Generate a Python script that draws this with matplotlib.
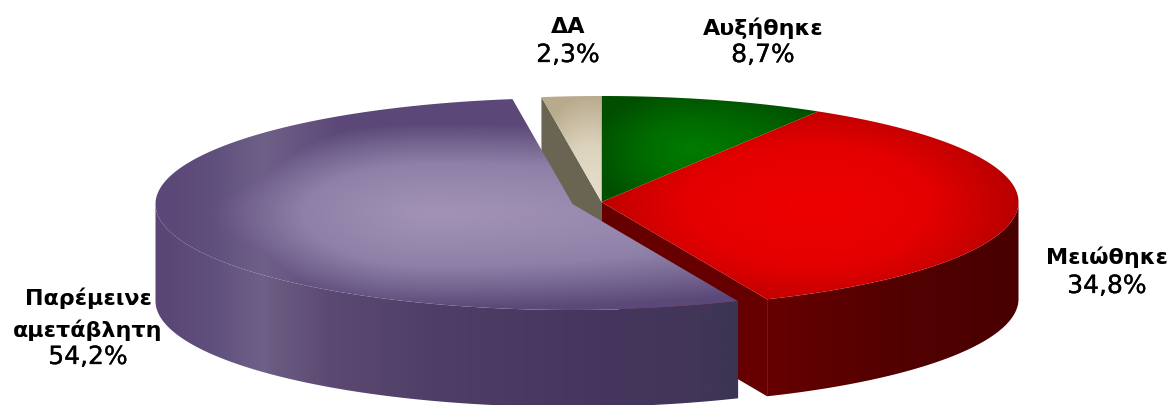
"""3D pie chart drawn from the four survey shares."""

import numpy as np
import matplotlib
matplotlib.use("Agg")
import matplotlib.pyplot as plt
import matplotlib.patheffects as pe
from matplotlib.colors import LinearSegmentedColormap
from matplotlib.patches import Polygon

plt.rcParams["font.family"] = ["DejaVu Sans"]

# data, clockwise from 12 o'clock
categories = ["Αυξήθηκε", "Μειώθηκε", "Παρέμεινε\nαμετάβλητη", "ΔΑ"]
values = [8.7, 34.8, 54.2, 2.3]
value_labels = ["8,7%", "34,8%", "54,2%", "2,3%"]

W, H = 1176, 406
CX, CY = 601.5, 203
RX, RY = 417, 106
DEPTH = 97
EXPLODE = (-29, 2)  # only the big slice is pulled out

fig = plt.figure(figsize=(W / 100, H / 100), dpi=100)
ax = fig.add_axes([0, 0, 1, 1])
ax.set_xlim(0, W)
ax.set_ylim(H, 0)
ax.axis("off")

edges = np.concatenate([[0], np.cumsum(values)]) / sum(values) * 2 * np.pi


def rim(t, cx=CX, cy=CY):
    return np.column_stack([cx + RX * np.sin(t), cy - RY * np.cos(t)])


def arc(t0, t1, cx=CX, cy=CY):
    return rim(np.linspace(t0, t1, 200), cx, cy)


def fill(points, img_fn, zorder):
    """Paint a gradient image clipped to a polygon."""
    poly = Polygon(points, closed=True, fc="none", ec="none", transform=ax.transData)
    ax.add_patch(poly)
    x0, y0 = points.min(axis=0)
    x1, y1 = points.max(axis=0)
    xs = np.arange(np.floor(x0), np.ceil(x1) + 1)
    ys = np.arange(np.floor(y0), np.ceil(y1) + 1)
    xx, yy = np.meshgrid(xs, ys)
    im = ax.imshow(
        img_fn(xx, yy),
        extent=(xs[0] - 0.5, xs[-1] + 0.5, ys[-1] + 0.5, ys[0] - 0.5),
        aspect="auto",
        zorder=zorder,
        interpolation="bilinear",
    )
    im.set_clip_path(poly)


def radial(colors, cx, cy, left, right, up, low):
    # elliptical falloff with a different reach on each side of the centre
    cmap = LinearSegmentedColormap.from_list("s", colors)

    def fn(xx, yy):
        sx = np.where(xx < cx, left, right)
        sy = np.where(yy < cy, up, low)
        d = np.sqrt(((xx - cx) / sx) ** 2 + ((yy - cy) / sy) ** 2)
        return cmap(np.clip(d, 0, 1))[:, :, :3]

    return fn


def linear_x(stops):
    xs = [s[0] for s in stops]
    cols = np.array([matplotlib.colors.to_rgb(s[1]) for s in stops])

    def fn(xx, yy):
        return np.dstack([np.interp(xx, xs, cols[:, i]) for i in range(3)])

    return fn


green0, green1 = edges[0], edges[1]
red0, red1 = edges[1], edges[2]
purple0, purple1 = edges[2], edges[3]
da0, da1 = edges[3], edges[4]
px, py = CX + EXPLODE[0], CY + EXPLODE[1]
down = np.array([0, DEPTH])
apex = np.array([[CX, CY]])
papex = np.array([[px, py]])

# back walls
da_rim = rim(np.array([da0]))
wall = np.vstack([da_rim, apex, apex + down, da_rim + down])
ax.add_patch(Polygon(wall, closed=True, fc="#6a6552", ec="none", zorder=1))

red_corner = rim(np.array([red1]))
wall = np.vstack([apex, red_corner, red_corner + down, apex + down])
ax.add_patch(Polygon(wall, closed=True, fc="#660000", ec="none", zorder=1))

# red outer wall
side = arc(np.pi / 2, red1)
wall = np.vstack([side, side[::-1] + down])
fill(wall, linear_x([(767, "#660000"), (900, "#520000"), (1018, "#480000")]), 2)

# top faces of the back slices
top = np.vstack([apex, arc(green0, green1)])
fill(top, radial(["#007c00", "#006a00", "#004f00"], 690, 150, 100, 160, 60, 70), 3)

top = np.vstack([apex, arc(red0, red1)])
fill(top, radial(["#ee0000", "#e40000", "#aa0000"], 815, 205, 260, 230, 115, 125), 3)

top = np.vstack([apex, arc(da0, da1)])
fill(top, radial(["#e6dfcc", "#dcd3bd", "#b8aa8c"], 590, 195, 65, 65, 100, 60), 3)

# big slice wall
wall_colors = linear_x(
    [
        (156, "#5a4575"),
        (215, "#60507d"),
        (262, "#6f6088"),
        (275, "#6a5a80"),
        (330, "#5c4973"),
        (430, "#4f3f66"),
        (600, "#46365e"),
        (700, "#413558"),
        (739, "#3a3552"),
    ]
)
side = arc(purple0, 3 * np.pi / 2, px, py)
wall = np.vstack([side, side[::-1] + down])
fill(wall, wall_colors, 4)

# big slice top, never darker than the wall on the left so the two run together
top_glow = radial(
    [(0.0, "#a293b6"), (0.55, "#8f80a8"), (0.75, "#786993"), (1.0, "#5b4878")],
    430, 215, 230, 620, 90, 95,
)
top_floor = linear_x(
    [(156, "#5a4575"), (215, "#60507d"), (262, "#6f6088"), (340, "#5b4878"), (739, "#5b4878")]
)
top = np.vstack([papex, arc(purple0, purple1, px, py)])
fill(top, lambda xx, yy: np.maximum(top_glow(xx, yy), top_floor(xx, yy)), 5)

# labels: (x, y of first name line, y of percentage)
label_pos = [(763, 28, 56), (1107, 257, 287), (88, 298, 358), (568, 27, 56)]
stroke = [pe.withStroke(linewidth=0.2, foreground="black")]
for name, pct, (x, y_name, y_pct) in zip(categories, value_labels, label_pos):
    for i, line in enumerate(name.split("\n")):
        ax.text(x, y_name + i * 32, line, ha="center", va="center",
                fontsize=16, fontweight="bold", color="black", zorder=10)
    ax.text(x, y_pct, pct, ha="center", va="center", fontsize=18,
            color="black", zorder=10, path_effects=stroke)

fig.savefig("out.png", dpi=100)
